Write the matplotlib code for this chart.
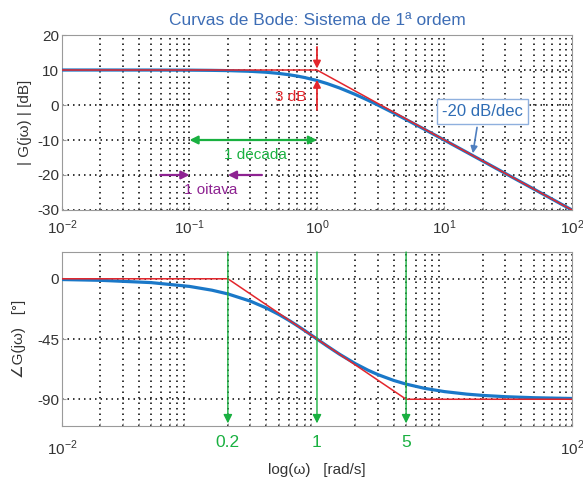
import numpy as np
import matplotlib
matplotlib.use("Agg")
import matplotlib.pyplot as plt
from matplotlib.ticker import LogLocator, FixedLocator, FixedFormatter

plt.rcParams['font.family'] = ['Liberation Sans', 'DejaVu Sans']
plt.rcParams['mathtext.fontset'] = 'custom'
plt.rcParams['mathtext.rm'] = 'Liberation Sans'
plt.rcParams['axes.unicode_minus'] = False

# Frequency samples [rad/s]
freq = [0.01, 0.02, 0.05, 0.1, 0.15, 0.2, 0.3, 0.4, 0.5, 0.6, 0.7, 0.8, 1.0,
        1.2, 1.5, 2.0, 2.5, 3.0, 4.0, 5.0, 7.0, 10.0, 15.0, 20.0, 30.0, 50.0, 100.0]
# Magnitude |G(jw)| [dB]
mag_db = [10.0, 10.0, 9.99, 9.96, 9.90, 9.83, 9.63, 9.36, 9.03, 8.66, 8.27, 7.85, 7.0,
          6.13, 4.88, 3.01, 1.40, 0.0, -2.30, -4.15, -6.99, -10.04, -13.54, -16.03,
          -19.55, -23.98, -30.0]
# Phase angle G(jw) [deg]
phase_deg = [-0.57, -1.15, -2.86, -5.71, -8.53, -11.31, -16.70, -21.80, -26.57, -30.96,
             -34.99, -38.66, -45.0, -50.19, -56.31, -63.43, -68.20, -71.57, -75.96,
             -78.69, -81.87, -84.29, -86.19, -87.14, -88.09, -88.85, -89.43]

# Straight-line asymptotes
mag_asym_w = [0.01, 1.0, 100.0]
mag_asym_db = [10.0, 10.0, -30.0]
ph_asym_w = [0.01, 0.2, 5.0, 100.0]
ph_asym_deg = [0.0, 0.0, -90.0, -90.0]

# Phase break frequencies and their labels
break_w = [0.2, 1.0, 5.0]
break_labels = ['0.2', '1', '5']

mag_ticks = [-30, -20, -10, 0, 10, 20]
ph_ticks = [-90, -45, 0]

BLUE = '#1a78c8'
RED = '#e3262c'
GREEN = '#19b040'
PURPLE = '#8e2392'
TXT = '#333333'
SPINE = '#9a9a9a'
GRID_LS = (0, (1, 2.6))

fig = plt.figure(figsize=(5.83, 4.79), dpi=100)
ax1 = fig.add_axes([0.1063, 0.5616, 0.8748, 0.3653])
ax2 = fig.add_axes([0.1063, 0.1106, 0.8748, 0.3633])


def style(ax):
    ax.set_xscale('log')
    ax.set_xlim(0.01, 100)
    ax.xaxis.set_major_locator(LogLocator(base=10, numticks=10))
    ax.xaxis.set_minor_locator(LogLocator(base=10, subs=np.arange(2, 10), numticks=20))
    ax.xaxis.grid(True, which='both', linestyle=GRID_LS, color='black', linewidth=1.1)
    ax.yaxis.grid(True, which='major', linestyle=GRID_LS, color='black', linewidth=1.1)
    ax.set_axisbelow(True)
    for s in ax.spines.values():
        s.set_color(SPINE)
        s.set_linewidth(0.8)
    ax.tick_params(which='both', direction='in', color=SPINE, labelcolor=TXT, labelsize=11)
    ax.tick_params(which='major', length=3)
    ax.tick_params(which='minor', length=2)
    ax.tick_params(axis='y', pad=2)


style(ax1)
style(ax2)

# Magnitude plot
ax1.plot(freq, mag_db, color=BLUE, lw=2.3, solid_capstyle='round', zorder=3)
ax1.plot(mag_asym_w, mag_asym_db, color=RED, lw=1.1, zorder=4)
ax1.set_ylim(-30, 20)
ax1.yaxis.set_major_locator(FixedLocator(mag_ticks))
ax1.tick_params(axis='x', pad=6)
ax1.set_ylabel('| G(jω) | [dB]', fontsize=11, color=TXT, labelpad=4)
ax1.set_title('Curvas de Bode: Sistema de 1ª ordem', color='#3d6db5', fontsize=12.5, pad=7)

# -3 dB marker at the corner frequency
ax1.annotate('', xy=(1.0, 10.4), xytext=(1.0, 16.6),
             arrowprops=dict(arrowstyle='-|>', color=RED, lw=1.3, mutation_scale=11,
                             shrinkA=0, shrinkB=0), zorder=5)
ax1.annotate('', xy=(1.0, 7.2), xytext=(1.0, -1.4),
             arrowprops=dict(arrowstyle='-|>', color=RED, lw=1.3, mutation_scale=11,
                             shrinkA=0, shrinkB=0), zorder=5)
ax1.text(0.62, 2.3, '3 dB', color=RED, fontsize=11, ha='center', va='center')

# One decade
ax1.annotate('', xy=(0.1, -10), xytext=(1.0, -10),
             arrowprops=dict(arrowstyle='<|-|>', color=GREEN, lw=1.6, mutation_scale=12,
                             shrinkA=0, shrinkB=0), zorder=5)
ax1.text(0.33, -14.4, '1 década', color=GREEN, fontsize=11, ha='center', va='center')

# One octave
ax1.annotate('', xy=(0.1, -20), xytext=(0.059, -20),
             arrowprops=dict(arrowstyle='-|>', color=PURPLE, lw=1.6, mutation_scale=12,
                             shrinkA=0, shrinkB=0), zorder=5)
ax1.annotate('', xy=(0.2, -20), xytext=(0.37, -20),
             arrowprops=dict(arrowstyle='-|>', color=PURPLE, lw=1.6, mutation_scale=12,
                             shrinkA=0, shrinkB=0), zorder=5)
ax1.text(0.148, -24.3, '1 oitava', color=PURPLE, fontsize=11, ha='center', va='center')

# Slope callout
ax1.annotate('', xy=(16.7, -13.8), xytext=(18.0, -6.4),
             arrowprops=dict(arrowstyle='-|>', color='#4f7fc0', lw=1.2, mutation_scale=10,
                             shrinkA=0, shrinkB=0), zorder=5)
ax1.text(20.0, -1.8, '-20 dB/dec', color='#2f6db5', fontsize=12, ha='center', va='center',
         bbox=dict(boxstyle='square,pad=0.3', fc='white', ec='#8fb0de', lw=1.0), zorder=6)

# Phase plot
ax2.plot(freq, phase_deg, color=BLUE, lw=2.3, solid_capstyle='round', zorder=3)
ax2.plot(ph_asym_w, ph_asym_deg, color=RED, lw=1.1, zorder=4)
ax2.set_ylim(-110, 20)
ax2.yaxis.set_major_locator(FixedLocator(ph_ticks))
ax2.xaxis.set_major_locator(FixedLocator([0.01, 100]))
ax2.xaxis.set_major_formatter(FixedFormatter(['$10^{-2}$', '$10^{2}$']))
ax2.tick_params(axis='x', pad=9)
ax2.set_ylabel('∠G(jω)   [°]', fontsize=11, color=TXT, labelpad=8)
ax2.set_xlabel('log(ω)   [rad/s]', fontsize=11, color=TXT, labelpad=4)

for w, lab in zip(break_w, break_labels):
    ax2.annotate('', xy=(w, -108), xytext=(w, 20),
                 arrowprops=dict(arrowstyle='-|>', color=GREEN, lw=1.0, mutation_scale=13,
                                 shrinkA=0, shrinkB=0), zorder=5)
    ax2.annotate(lab, xy=(w, 0), xycoords=('data', 'axes fraction'), xytext=(0, -12),
                 textcoords='offset points', color=GREEN, fontsize=12.5,
                 ha='center', va='center')

fig.savefig('out.png', dpi=100)
